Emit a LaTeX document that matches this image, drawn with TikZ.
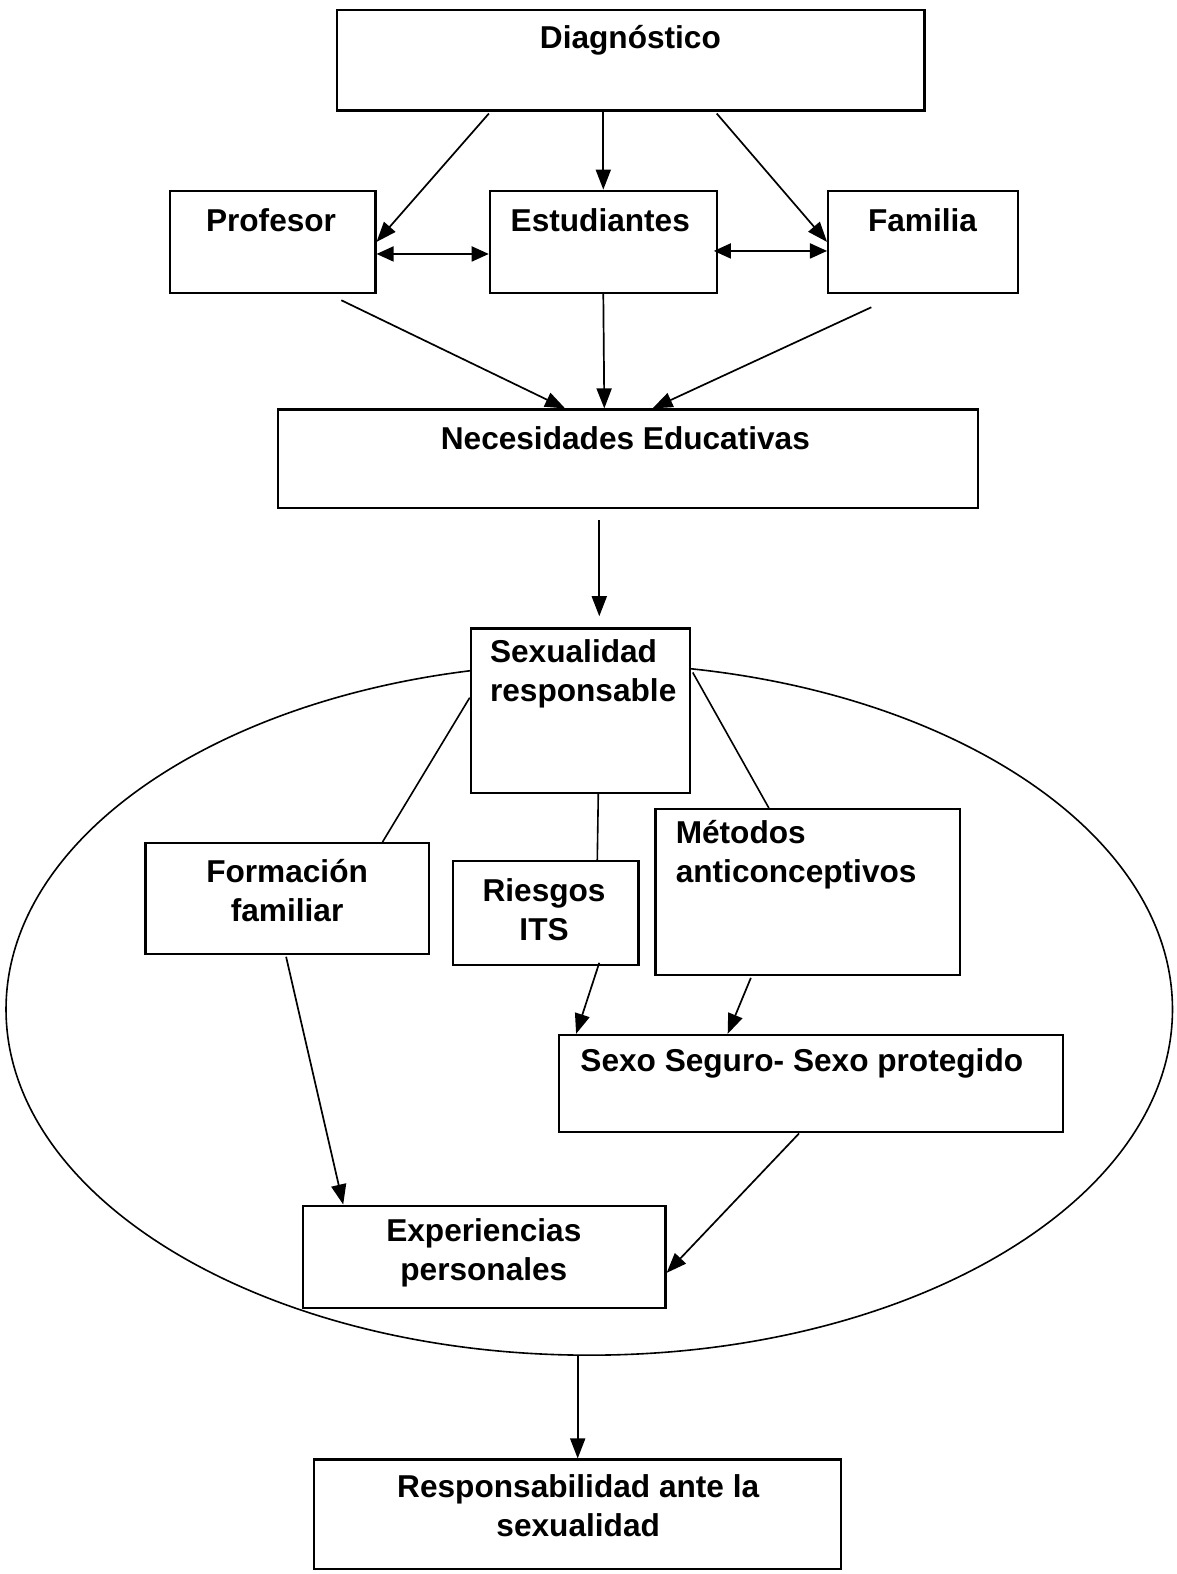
\documentclass[tikz,border=0pt]{standalone}
\usepackage{fontspec}
\setmainfont{Liberation Sans}
\usetikzlibrary{arrows.meta,calc,shapes.geometric}

\tikzset{
    box/.style={draw,line width=2.2pt,fill=white,inner sep=0pt},
    boxtext/.style={font=\bfseries\fontsize{31.5}{39}\selectfont,inner sep=0pt,align=center},
    leftboxtext/.style={boxtext,align=left,anchor=west},
    link/.style={line width=1.7pt,-{Triangle[length=20pt,width=15pt]}},
    twolink/.style={line width=1.7pt,{Triangle[length=17pt,width=15pt]}-{Triangle[length=17pt,width=15pt]}},
    plainlink/.style={line width=1.6pt}
}

\begin{document}
\begin{tikzpicture}[x=1pt,y=-1pt]
    \useasboundingbox (0,0) rectangle (1172,1568);
    % the oval round the contents
    \node[draw,ellipse,line width=1.6pt,inner sep=0pt,minimum width=1162pt,minimum height=689pt] (area) at (587,1005.5) {};
    % boxes
    \node[box,minimum width=585pt,minimum height=100pt] (diag) at (628.5,60) {};
    \node[box,minimum width=205pt,minimum height=102pt] (prof) at (271.5,241) {};
    \node[box,minimum width=226pt,minimum height=102pt] (estu) at (601,241) {};
    \node[box,minimum width=189pt,minimum height=102pt] (fam) at (919.5,241) {};
    \node[box,minimum width=697pt,minimum height=98pt] (nec) at (625.5,457) {};
    \node[box,minimum width=218pt,minimum height=164pt] (sexr) at (578,708) {};
    \node[box,minimum width=282pt,minimum height=110pt] (form) at (286,895) {};
    \node[box,minimum width=185pt,minimum height=103pt] (ries) at (543.5,909.5) {};
    \node[box,minimum width=303pt,minimum height=165pt] (met) at (804.5,888.5) {};
    \node[box,minimum width=502pt,minimum height=97pt] (sexo) at (808,1079.5) {};
    \node[box,minimum width=361pt,minimum height=102pt] (exp) at (482.5,1252) {};
    \node[box,minimum width=525pt,minimum height=109pt] (resp) at (575.5,1508.5) {};
    % texts
    \node[boxtext] (diagtext) at (628,40) {Diagnóstico};
    \node[boxtext] (proftext) at (270,219) {Profesor};
    \node[boxtext] (estutext) at (598,219) {Estudiantes};
    \node[boxtext] (famtext) at (919,219) {Familia};
    \node[boxtext] (nectext) at (623,437) {Necesidades Educativas};
    \node[leftboxtext] (sexrtext) at (488,671) {Sexualidad\\responsable};
    \node[boxtext] (formtext) at (286,887) {Formación\\familiar};
    \node[boxtext] (riestext) at (542,906) {Riesgos\\ITS};
    \node[leftboxtext] (mettext) at (673,851) {Métodos\\anticonceptivos};
    \node[leftboxtext] (sexotext) at (578,1059) {Sexo Seguro- Sexo protegido};
    \node[boxtext] (exptext) at (482,1248) {Experiencias\\personales};
    \node[boxtext] (resptext) at (576,1500) {Responsabilidad ante la\\sexualidad};
    % connectors
    \draw[link] ($(diag.south)+(-141.5,2)$) -- (prof.east);
    \draw[link] (estu.north |- diag.south) -- (estu.north);
    \draw[link] ($(diag.south)+(85.5,2)$) -- (fam.west);
    \draw[twolink] ($(prof.east)+(0,12)$) -- ($(estu.west)+(0,12)$);
    \draw[twolink] ($(estu.east)+(-4,9)$) -- ($(fam.west)+(0,9)$);
    \draw[link] ($(prof.south)+(68.5,6)$) -- ($(nec.north)+(-62.5,0)$);
    \draw[link] (estu.south) -- ($(nec.north)+(-23.5,0)$);
    \draw[link] ($(fam.south)+(-51.5,13)$) -- ($(nec.north)+(24.5,0)$);
    \draw[link] ($(nec.south)+(-28.5,11)$) -- ($(sexr.north)+(19,-11)$);
    \draw[plainlink] ($(sexr.west)+(0,-13)$) -- ($(form.north)+(95,0)$);
    \draw[plainlink] ($(sexr.south)+(18,0)$) -- ($(ries.north)+(51.5,0)$);
    \draw[plainlink] ($(sexr.north east)+(2,45)$) -- ($(met.north west)+(114,0)$);
    \draw[link] ($(ries.south)+(53.5,-3)$) -- ($(sexo.north west)+(18,0)$);
    \draw[link] ($(met.south)+(-56.5,2)$) -- ($(sexo.north west)+(169,0)$);
    \draw[link] ($(form.south)+(-1,2)$) -- ($(exp.north west)+(41,0)$);
    \draw[link] ($(sexo.south)+(-12,0)$) -- ($(exp.east)+(0,16)$);
    \draw[link] (resp.north |- area.south) -- (resp.north);
\end{tikzpicture}
\end{document}
